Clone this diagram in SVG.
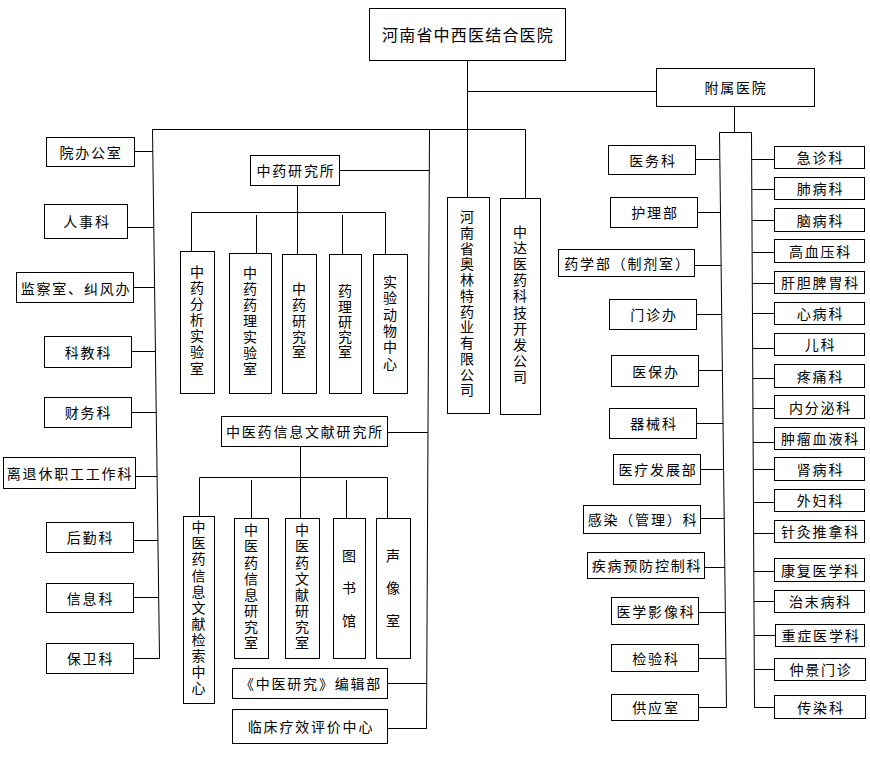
<svg xmlns="http://www.w3.org/2000/svg" width="870" height="760" viewBox="0 0 870 760">
<style>
rect{fill:#fff;stroke:#000;stroke-width:1}
text{font-family:"Noto Sans CJK SC","Noto Sans",sans-serif;font-size:14px;fill:#000;text-anchor:middle;dominant-baseline:central}
.h{letter-spacing:1.8px}
.big{font-size:16px;letter-spacing:1.2px}
.v{writing-mode:vertical-rl;text-orientation:upright}
#connectors line{stroke:#000;stroke-width:1;fill:none}
</style>
<rect x="0" y="0" width="870" height="760" style="fill:#fff;stroke:none"/>
<g id="connectors">
<line x1="467.5" y1="60" x2="467.5" y2="197"/>
<line x1="467.5" y1="91.5" x2="656" y2="91.5"/>
<line x1="152" y1="129.5" x2="525.5" y2="129.5"/>
<line x1="525.5" y1="129.5" x2="525.5" y2="198"/>
<line x1="152.5" y1="129.5" x2="159.5" y2="658.5"/>
<line x1="134" y1="151.5" x2="152.8" y2="151.5"/>
<line x1="127" y1="227.5" x2="153.8" y2="227.5"/>
<line x1="133" y1="287.5" x2="154.6" y2="287.5"/>
<line x1="131" y1="351.5" x2="155.4" y2="351.5"/>
<line x1="131" y1="412.5" x2="156.2" y2="412.5"/>
<line x1="135" y1="476.5" x2="157.1" y2="476.5"/>
<line x1="133" y1="540.5" x2="157.9" y2="540.5"/>
<line x1="133" y1="597.5" x2="158.7" y2="597.5"/>
<line x1="133" y1="658.5" x2="159.5" y2="658.5"/>
<line x1="429.5" y1="129.5" x2="426.5" y2="729"/>
<line x1="339" y1="170.5" x2="429.2" y2="170.5"/>
<line x1="387" y1="432.5" x2="427.8" y2="432.5"/>
<line x1="387" y1="683.5" x2="426.5" y2="683.5"/>
<line x1="387" y1="728.5" x2="426.5" y2="728.5"/>
<line x1="297.5" y1="185" x2="297.5" y2="254"/>
<line x1="191.5" y1="212.5" x2="385.5" y2="212.5"/>
<line x1="191.5" y1="212.5" x2="191.5" y2="251"/>
<line x1="256.5" y1="215" x2="256.5" y2="253"/>
<line x1="342.5" y1="215" x2="342.5" y2="254"/>
<line x1="385.5" y1="212.5" x2="385.5" y2="254"/>
<line x1="300.5" y1="446" x2="300.5" y2="518"/>
<line x1="199.5" y1="477.5" x2="387.5" y2="477.5"/>
<line x1="199.5" y1="477.5" x2="199.5" y2="516"/>
<line x1="251.5" y1="480" x2="251.5" y2="518"/>
<line x1="346.5" y1="480" x2="346.5" y2="518"/>
<line x1="387.5" y1="477.5" x2="387.5" y2="518"/>
<line x1="734.5" y1="106" x2="734.5" y2="132.5"/>
<line x1="719.5" y1="132.5" x2="751.5" y2="132.5"/>
<line x1="719.5" y1="132.5" x2="726.5" y2="707.5"/>
<line x1="751.5" y1="132.5" x2="754.5" y2="707.5"/>
<line x1="695" y1="159.5" x2="719.8" y2="159.5"/>
<line x1="697" y1="212.5" x2="720.4" y2="212.5"/>
<line x1="694" y1="265.5" x2="721.1" y2="265.5"/>
<line x1="696" y1="314.5" x2="721.7" y2="314.5"/>
<line x1="698" y1="370.5" x2="722.4" y2="370.5"/>
<line x1="696" y1="423.5" x2="723.1" y2="423.5"/>
<line x1="700" y1="469.5" x2="723.6" y2="469.5"/>
<line x1="700" y1="518.5" x2="724.2" y2="518.5"/>
<line x1="704" y1="567.5" x2="724.8" y2="567.5"/>
<line x1="698" y1="612.5" x2="725.4" y2="612.5"/>
<line x1="698" y1="658.5" x2="725.9" y2="658.5"/>
<line x1="698" y1="707.5" x2="726.5" y2="707.5"/>
<line x1="751.6" y1="159.5" x2="774" y2="159.5"/>
<line x1="751.8" y1="189.5" x2="774" y2="189.5"/>
<line x1="751.9" y1="220.5" x2="774" y2="220.5"/>
<line x1="752.1" y1="252.5" x2="774" y2="252.5"/>
<line x1="752.2" y1="283.5" x2="774" y2="283.5"/>
<line x1="752.4" y1="313.5" x2="774" y2="313.5"/>
<line x1="752.6" y1="348.5" x2="774" y2="348.5"/>
<line x1="752.8" y1="378.5" x2="774" y2="378.5"/>
<line x1="752.9" y1="408.5" x2="774" y2="408.5"/>
<line x1="753.1" y1="442.5" x2="774" y2="442.5"/>
<line x1="753.3" y1="469.5" x2="774" y2="469.5"/>
<line x1="753.4" y1="502.5" x2="774" y2="502.5"/>
<line x1="753.6" y1="533.5" x2="774" y2="533.5"/>
<line x1="753.8" y1="571.5" x2="774" y2="571.5"/>
<line x1="754" y1="601.5" x2="774" y2="601.5"/>
<line x1="754.1" y1="635.5" x2="775" y2="635.5"/>
<line x1="754.3" y1="669.5" x2="774" y2="669.5"/>
<line x1="754.5" y1="707.5" x2="774" y2="707.5"/>
</g>

<g id="root"><rect x="369.5" y="8.5" width="196" height="52"/><text class="big" x="468" y="34">河南省中西医结合医院</text></g>
<g id="fushu"><rect x="656.5" y="68.5" width="158" height="38"/><text class="h" x="736" y="87">附属医院</text></g>

<g id="l1"><rect x="46.5" y="137.5" width="88" height="29"/><text class="h" x="91" y="152">院办公室</text></g>
<g id="l2"><rect x="44.5" y="204.5" width="83" height="34"/><text class="h" x="87" y="221">人事科</text></g>
<g id="l3"><rect x="16.5" y="272.5" width="117" height="30"/><text class="h" x="76" y="287.5">监察室、纠风办</text></g>
<g id="l4"><rect x="44.5" y="336.5" width="87" height="31"/><text class="h" x="88.5" y="351.5">科教科</text></g>
<g id="l5"><rect x="44.5" y="397.5" width="87" height="30"/><text class="h" x="88.5" y="412">财务科</text></g>
<g id="l6"><rect x="3.5" y="457.5" width="132" height="31"/><text class="h" x="70" y="472.5">离退休职工工作科</text></g>
<g id="l7"><rect x="46.5" y="522.5" width="87" height="30"/><text class="h" x="90.5" y="537">后勤科</text></g>
<g id="l8"><rect x="46.5" y="583.5" width="87" height="29"/><text class="h" x="90.5" y="597.5">信息科</text></g>
<g id="l9"><rect x="46.5" y="643.5" width="87" height="30"/><text class="h" x="90.5" y="658">保卫科</text></g>

<g id="zyyjs"><rect x="250.5" y="155.5" width="89" height="30"/><text class="h" x="296" y="170">中药研究所</text></g>
<g id="z1"><rect x="180.5" y="251.5" width="34" height="142"/><text class="v" x="197" y="321" style="letter-spacing:2.1px">中药分析实验室</text></g>
<g id="z2"><rect x="229.5" y="253.5" width="42" height="140"/><text class="v" x="250" y="322" style="letter-spacing:2px">中药药理实验室</text></g>
<g id="z3"><rect x="282.5" y="254.5" width="34" height="139"/><text class="v" x="299" y="321.4" style="letter-spacing:1.75px">中药研究室</text></g>
<g id="z4"><rect x="329.5" y="254.5" width="32" height="139"/><text class="v" x="345" y="322.1" style="letter-spacing:1.25px">药理研究室</text></g>
<g id="z5"><rect x="373.5" y="254.5" width="34" height="139"/><text class="v" x="390" y="323.6" style="letter-spacing:2.3px">实验动物中心</text></g>

<g id="xxwx"><rect x="221.5" y="416.5" width="166" height="30"/><text class="h" x="305" y="431">中医药信息文献研究所</text></g>
<g id="x1"><rect x="183.5" y="516.5" width="31" height="187"/><text class="v" x="198.5" y="608.5" style="letter-spacing:2.1px">中医药信息文献检索中心</text></g>
<g id="x2"><rect x="234.5" y="518.5" width="34" height="140"/><text class="v" x="251" y="587.6" style="letter-spacing:2.15px">中医药信息研究室</text></g>
<g id="x3"><rect x="285.5" y="518.5" width="34" height="140"/><text class="v" x="302" y="587.6" style="letter-spacing:2.15px">中医药文献研究室</text></g>
<g id="x4"><rect x="333.5" y="518.5" width="32" height="140"/><text class="v" x="349" y="597" style="letter-spacing:18.5px">图书馆</text></g>
<g id="x5"><rect x="376.5" y="518.5" width="34" height="140"/><text class="v" x="393" y="597" style="letter-spacing:18.5px">声像室</text></g>

<g id="bjb"><rect x="232.5" y="668.5" width="155" height="30"/><text class="h" x="311" y="683">《中医研究》编辑部</text></g>
<g id="lc"><rect x="232.5" y="709.5" width="155" height="34"/><text class="h" x="311" y="726">临床疗效评价中心</text></g>

<g id="aolin"><rect x="447.5" y="197.5" width="42" height="216"/><text class="v" x="467" y="304.2" style="letter-spacing:1.75px">河南省奥林特药业有限公司</text></g>
<g id="zhongda"><rect x="500.5" y="198.5" width="40" height="216"/><text class="v" x="520" y="305.2" style="letter-spacing:2.1px">中达医药科技开发公司</text></g>

<g id="m1"><rect x="608.5" y="145.5" width="87" height="29"/><text class="h" x="653" y="159.5">医务科</text></g>
<g id="m2"><rect x="610.5" y="197.5" width="87" height="30"/><text class="h" x="655" y="212">护理部</text></g>
<g id="m3"><rect x="558.5" y="249.5" width="136" height="27"/><text class="h" x="627.5" y="262.5">药学部（制剂室）</text></g>
<g id="m4"><rect x="609.5" y="299.5" width="87" height="30"/><text class="h" x="654" y="314">门诊办</text></g>
<g id="m5"><rect x="611.5" y="355.5" width="87" height="31"/><text class="h" x="656" y="370.5">医保办</text></g>
<g id="m6"><rect x="609.5" y="408.5" width="87" height="30"/><text class="h" x="654" y="423">器械科</text></g>
<g id="m7"><rect x="613.5" y="454.5" width="87" height="30"/><text class="h" x="658" y="469">医疗发展部</text></g>
<g id="m8"><rect x="583.5" y="505.5" width="117" height="28"/><text class="h" x="643" y="519">感染（管理）科</text></g>
<g id="m9"><rect x="587.5" y="552.5" width="117" height="26"/><text class="h" x="647" y="565">疾病预防控制科</text></g>
<g id="m10"><rect x="611.5" y="597.5" width="87" height="27"/><text class="h" x="656" y="610.5">医学影像科</text></g>
<g id="m11"><rect x="611.5" y="644.5" width="87" height="27"/><text class="h" x="656" y="657.5">检验科</text></g>
<g id="m12"><rect x="611.5" y="694.5" width="87" height="26"/><text class="h" x="656" y="707">供应室</text></g>

<g id="r1"><rect x="774.5" y="146.5" width="90" height="22"/><text class="h" x="820.5" y="157">急诊科</text></g>
<g id="r2"><rect x="774.5" y="177.5" width="90" height="22"/><text class="h" x="820.5" y="188">肺病科</text></g>
<g id="r3"><rect x="774.5" y="208.5" width="90" height="23"/><text class="h" x="820.5" y="219.5">脑病科</text></g>
<g id="r4"><rect x="774.5" y="239.5" width="90" height="23"/><text class="h" x="820.5" y="250.5">高血压科</text></g>
<g id="r5"><rect x="774.5" y="271.5" width="90" height="22"/><text class="h" x="820.5" y="282">肝胆脾胃科</text></g>
<g id="r6"><rect x="774.5" y="302.5" width="90" height="22"/><text class="h" x="820.5" y="313">心病科</text></g>
<g id="r7"><rect x="774.5" y="333.5" width="90" height="22"/><text class="h" x="820.5" y="344">儿科</text></g>
<g id="r8"><rect x="774.5" y="364.5" width="90" height="23"/><text class="h" x="820.5" y="375.5">疼痛科</text></g>
<g id="r9"><rect x="774.5" y="395.5" width="90" height="23"/><text class="h" x="820.5" y="406.5">内分泌科</text></g>
<g id="r10"><rect x="774.5" y="427.5" width="90" height="22"/><text class="h" x="820.5" y="438">肿瘤血液科</text></g>
<g id="r11"><rect x="774.5" y="457.5" width="90" height="23"/><text class="h" x="820.5" y="468.5">肾病科</text></g>
<g id="r12"><rect x="774.5" y="489.5" width="90" height="22"/><text class="h" x="820.5" y="500">外妇科</text></g>
<g id="r13"><rect x="774.5" y="520.5" width="90" height="22"/><text class="h" x="820.5" y="531">针灸推拿科</text></g>
<g id="r14"><rect x="774.5" y="558.5" width="90" height="23"/><text class="h" x="820.5" y="569.5">康复医学科</text></g>
<g id="r15"><rect x="774.5" y="590.5" width="90" height="22"/><text class="h" x="820.5" y="601">治末病科</text></g>
<g id="r16"><rect x="775.5" y="624.5" width="89" height="22"/><text class="h" x="821" y="635">重症医学科</text></g>
<g id="r17"><rect x="774.5" y="658.5" width="91" height="22"/><text class="h" x="821" y="669">仲景门诊</text></g>
<g id="r18"><rect x="774.5" y="695.5" width="91" height="23"/><text class="h" x="821" y="706.5">传染科</text></g>
</svg>
